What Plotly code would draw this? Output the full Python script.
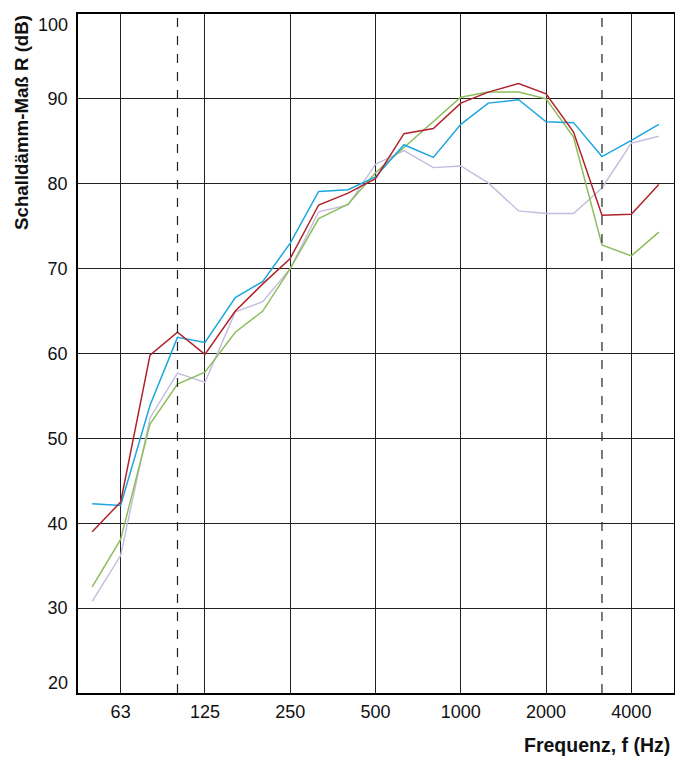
import math
import plotly.graph_objects as go

freqs = [50, 63, 80, 100, 125, 160, 200, 250, 315, 400, 500, 630, 800,
         1000, 1250, 1600, 2000, 2500, 3150, 4000, 5000]

blue = [42.3, 42.1, 53.9, 61.9, 61.3, 66.6, 68.5, 73.0, 79.1, 79.3, 80.8,
        84.6, 83.1, 87.0, 89.5, 89.9, 87.3, 87.2, 83.2, 85.1, 87.0]
red = [39.0, 42.5, 59.8, 62.5, 59.9, 65.0, 68.2, 71.2, 77.5, 78.9, 80.6,
       85.9, 86.5, 89.5, 90.8, 91.8, 90.6, 86.1, 76.3, 76.4, 79.9]
green = [32.5, 38.1, 51.7, 56.4, 57.8, 62.5, 65.0, 70.0, 75.9, 77.6, 81.3,
         84.3, 87.3, 90.2, 90.8, 90.8, 90.0, 85.5, 72.8, 71.5, 74.3]
lavender = [30.8, 36.2, 52.4, 57.7, 56.6, 64.9, 66.1, 70.0, 76.7, 77.5, 82.3,
            83.9, 81.9, 82.1, 80.1, 76.8, 76.5, 76.5, 79.5, 84.8, 85.6]

tick_vals = [63, 125, 250, 500, 1000, 2000, 4000]
tick_text = ["63", "125", "250", "500", "1000", "2000", "4000"]
dashed_freqs = [100, 3150]
y_ticks = [30, 40, 50, 60, 70, 80, 90]
y_edge_ticks = [20, 100]

FONT = "Liberation Sans, Arial, sans-serif"
TXT = "#111111"

fig = go.Figure()
series = [
    (lavender, "#c3bcdf", 1.4),
    (green, "#8dbd5c", 1.5),
    (blue, "#1ba6df", 1.5),
    (red, "#b0232b", 1.5),
]
for vals, col, w in series:
    fig.add_trace(go.Scatter(x=freqs, y=vals, mode="lines",
                             line=dict(color=col, width=w), showlegend=False))

for f in dashed_freqs:
    fig.add_shape(type="line", xref="x", yref="paper", x0=f, x1=f, y0=0, y1=1,
                  line=dict(color="#222222", width=1.2, dash="dash"))

half = math.log10(2) / 2
fig.update_xaxes(type="log",
                 range=[math.log10(63) - half, math.log10(4000) + half],
                 tickvals=tick_vals, ticktext=tick_text,
                 showgrid=True, gridcolor="#222222", gridwidth=1,
                 showline=True, linecolor="#000000", linewidth=1.5, mirror=True,
                 ticks="outside", ticklen=2, tickcolor="rgba(0,0,0,0)",
                 tickfont=dict(family=FONT, size=18, color=TXT),
                 zeroline=False, automargin=False)
fig.update_yaxes(range=[20, 100], tickvals=y_ticks,
                 showgrid=True, gridcolor="#222222", gridwidth=1,
                 showline=True, linecolor="#000000", linewidth=1.5, mirror=True,
                 ticks="outside", ticklen=5, tickcolor="rgba(0,0,0,0)",
                 tickfont=dict(family=FONT, size=18, color=TXT),
                 zeroline=False, automargin=False)

# edge tick labels (shifted inward like the reference)
for v in y_edge_ticks:
    fig.add_annotation(text=str(v), xref="paper", yref="y", x=0, y=v,
                       xanchor="right", yanchor="top" if v == 100 else "bottom",
                       xshift=-8, yshift=1 if v == 100 else -2,
                       showarrow=False,
                       font=dict(family=FONT, size=18, color=TXT))

fig.add_annotation(text="<b>Schalldämm-Maß R (dB)</b>", xref="paper", yref="paper",
                   x=-0.094, y=0.841, textangle=-90, showarrow=False,
                   xanchor="center", yanchor="middle",
                   font=dict(family=FONT, size=18.7, color=TXT))
fig.add_annotation(text="<b>Frequenz, f (Hz)</b>", xref="paper", yref="paper",
                   x=0.9966, y=-0.0766, showarrow=False,
                   xanchor="right", yanchor="middle",
                   font=dict(family=FONT, size=19.5, color=TXT))

fig.update_layout(width=675, height=758,
                  margin=dict(l=78, r=1, t=14, b=65),
                  paper_bgcolor="white", plot_bgcolor="white",
                  showlegend=False)

fig.write_html("out.html",
               config={"displayModeBar": False},
               post_script="document.body.style.margin='0';document.body.style.padding='0';")
